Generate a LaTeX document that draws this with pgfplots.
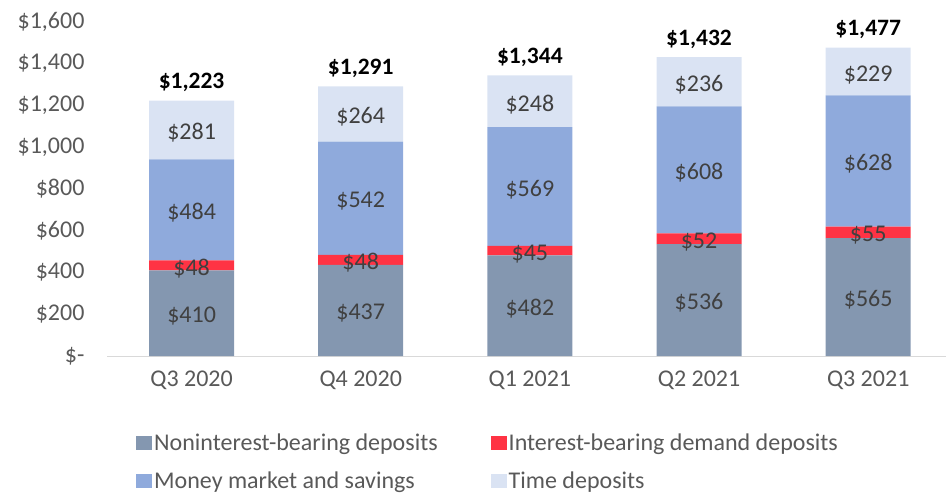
\documentclass[border=0pt]{standalone}
\usepackage{fontspec}
\setmainfont{Carlito}
\usepackage{pgfplots}
\pgfplotsset{compat=1.18}

\definecolor{cNon}{HTML}{8497B0}
\definecolor{cInt}{HTML}{FF3344}
\definecolor{cMon}{HTML}{8FAADC}
\definecolor{cTim}{HTML}{DAE3F3}
\definecolor{cTxt}{HTML}{595959}
\definecolor{cLab}{HTML}{404040}

\pgfplotsset{
  base/.style={
    scale only axis,
    width=839pt, height=334pt,
    xmin=-0.5, xmax=4.46,
    ymin=0, ymax=1600,
  },
}

\begin{document}
\begin{tikzpicture}
\begin{axis}[
  base,
  name=a,
  ybar stacked,
  bar width=85pt,
  axis x line*=bottom,
  axis y line*=left,
  x axis line style={draw=black!15, line width=1pt},
  y axis line style={draw=none},
  xtick={0,1,2,3,4},
  xticklabels={Q3 2020, Q4 2020, Q1 2021, Q2 2021, Q3 2021},
  ytick={0,200,...,1600},
  yticklabels={\$-, \$200, \$400, \$600, \$800, \$1{,}000, \$1{,}200, \$1{,}400, \$1{,}600},
  major tick length=0pt,
  tick style={draw=none},
  /pgf/number format/assume math mode=true,
  tick label style={font=\fontsize{24}{28}\selectfont, text=cTxt},
  yticklabel style={xshift=-19pt},
  xticklabel style={yshift=-11pt},
  legend columns=2,
  legend cell align=left,
  legend style={draw=none, at={(0.031,-0.22)}, anchor=north west,
    font=\fontsize{24}{28}\selectfont, text=cTxt,
    /tikz/every even column/.append style={column sep=51pt},
    row sep=16pt},
  legend image code/.code={\fill[#1] (0pt,-7pt) rectangle (16pt,7pt);},
]
\addplot+[fill=cNon, draw=none] coordinates {(0,410) (1,437) (2,482) (3,536) (4,565)};
\addplot+[fill=cInt, draw=none] coordinates {(0,48) (1,48) (2,45) (3,52) (4,55)};
\addplot+[fill=cMon, draw=none] coordinates {(0,484) (1,542) (2,569) (3,608) (4,628)};
\addplot+[fill=cTim, draw=none] coordinates {(0,281) (1,264) (2,248) (3,236) (4,229)};
\legend{Noninterest-bearing deposits, Interest-bearing demand deposits, Money market and savings, Time deposits}
\end{axis}

\begin{axis}[
  base,
  hide axis,
  nodes near coords,
  point meta=explicit symbolic,
]
\addplot[draw=none, mark=none, nodes near coords,
  every node near coord/.style={anchor=center, yshift=-3pt, font=\fontsize{24}{28}\selectfont, text=cLab}]
  coordinates {
    (0,205) [\$410] (1,218.5) [\$437] (2,241) [\$482] (3,268) [\$536] (4,282.5) [\$565]
    (0,434) [\$48] (1,461) [\$48] (2,504.5) [\$45] (3,562) [\$52] (4,592.5) [\$55]
    (0,700) [\$484] (1,756) [\$542] (2,811.5) [\$569] (3,892) [\$608] (4,934) [\$628]
    (0,1082.5) [\$281] (1,1159) [\$264] (2,1220) [\$248] (3,1314) [\$236] (4,1362.5) [\$229]
  };
\addplot[draw=none, mark=none, nodes near coords,
  every node near coord/.style={anchor=south, yshift=5pt, font=\bfseries\fontsize{23.5}{28}\selectfont, text=black}]
  coordinates {
    (0,1223) [\$1{,}223] (1,1291) [\$1{,}291] (2,1344) [\$1{,}344] (3,1432) [\$1{,}432] (4,1477) [\$1{,}477]
  };
\end{axis}

\pgfresetboundingbox
\useasboundingbox ([xshift=-107pt, yshift=-141pt]a.south west) rectangle ([yshift=22pt]a.north east);
\end{tikzpicture}
\end{document}
